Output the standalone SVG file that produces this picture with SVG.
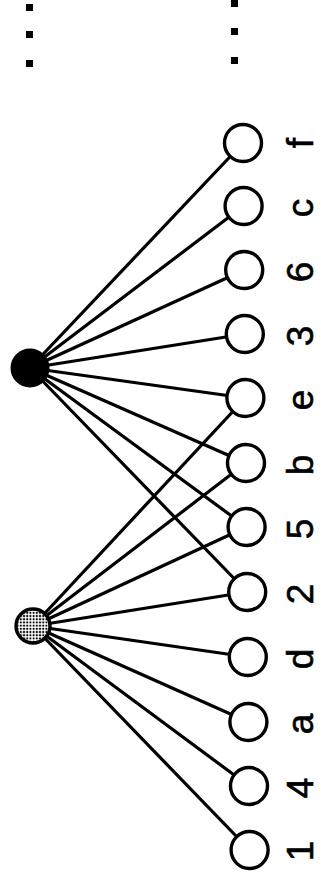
<svg xmlns="http://www.w3.org/2000/svg" width="321" height="878" viewBox="0 0 321 878">
<style>
.e{stroke:#000;stroke-width:3.2;fill:none}
.leaf{fill:#fff;stroke:#000;stroke-width:3.4}
.lbl{font-family:"Liberation Sans",Arial,sans-serif;font-size:37px;fill:#000;stroke:#000;stroke-width:0.6;text-anchor:middle}
.dot{fill:#000}
</style>
<defs>
<pattern id="dots" width="3.2" height="3.2" patternUnits="userSpaceOnUse">
<rect width="3.2" height="3.2" fill="#fff"/>
<circle cx="1.6" cy="1.6" r="1.1" fill="#000"/>
</pattern>
</defs>
<g id="ellipsis">
<rect class="dot" x="26" y="4" width="7" height="7"/>
<rect class="dot" x="26" y="31" width="7" height="7"/>
<rect class="dot" x="26" y="60" width="7" height="7"/>
<rect class="dot" x="231" y="0" width="7" height="7"/>
<rect class="dot" x="231" y="28" width="7" height="7"/>
<rect class="dot" x="231" y="57" width="7" height="7"/>
</g>
<g id="connectors" class="e">
<line x1="30" y1="368" x2="243" y2="143"/>
<line x1="30" y1="368" x2="243.6" y2="206"/>
<line x1="30" y1="368" x2="244.2" y2="270"/>
<line x1="30" y1="368" x2="244.8" y2="334"/>
<line x1="30" y1="368" x2="245.4" y2="398"/>
<line x1="30" y1="368" x2="246" y2="463"/>
<line x1="30" y1="368" x2="246.6" y2="527"/>
<line x1="30" y1="368" x2="247.2" y2="592"/>
<line x1="33" y1="626" x2="245.4" y2="398"/>
<line x1="33" y1="626" x2="246" y2="463"/>
<line x1="33" y1="626" x2="246.6" y2="527"/>
<line x1="33" y1="626" x2="247.2" y2="592"/>
<line x1="33" y1="626" x2="247.8" y2="657"/>
<line x1="33" y1="626" x2="248.4" y2="722"/>
<line x1="33" y1="626" x2="249" y2="786"/>
<line x1="33" y1="626" x2="249.6" y2="850"/>
</g>
<g id="root-black"><circle cx="30" cy="368" r="19.5" fill="#000"/></g>
<g id="root-gray"><circle cx="33" cy="626" r="17" fill="url(#dots)" stroke="#000" stroke-width="3.4"/></g>
<g id="leaf-f"><circle class="leaf" cx="243" cy="143" r="18.5"/><text class="lbl" transform="translate(313,143) rotate(-90)">f</text></g>
<g id="leaf-c"><circle class="leaf" cx="243.6" cy="206" r="18.5"/><text class="lbl" transform="translate(313,208) rotate(-90)">c</text></g>
<g id="leaf-6"><circle class="leaf" cx="244.2" cy="270" r="18.5"/><text class="lbl" transform="translate(313,272) rotate(-90)">6</text></g>
<g id="leaf-3"><circle class="leaf" cx="244.8" cy="334" r="18.5"/><text class="lbl" transform="translate(313,336) rotate(-90)">3</text></g>
<g id="leaf-e"><circle class="leaf" cx="245.4" cy="398" r="18.5"/><text class="lbl" transform="translate(313,400) rotate(-90)">e</text></g>
<g id="leaf-b"><circle class="leaf" cx="246" cy="463" r="18.5"/><text class="lbl" transform="translate(313,465) rotate(-90)">b</text></g>
<g id="leaf-5"><circle class="leaf" cx="246.6" cy="527" r="18.5"/><text class="lbl" transform="translate(313,529) rotate(-90)">5</text></g>
<g id="leaf-2"><circle class="leaf" cx="247.2" cy="592" r="18.5"/><text class="lbl" transform="translate(313,594) rotate(-90)">2</text></g>
<g id="leaf-d"><circle class="leaf" cx="247.8" cy="657" r="18.5"/><text class="lbl" transform="translate(313,659) rotate(-90)">d</text></g>
<g id="leaf-a"><circle class="leaf" cx="248.4" cy="722" r="18.5"/><text class="lbl" transform="translate(313,724) rotate(-90)">a</text></g>
<g id="leaf-4"><circle class="leaf" cx="249" cy="786" r="18.5"/><text class="lbl" transform="translate(313,788) rotate(-90)">4</text></g>
<g id="leaf-1"><circle class="leaf" cx="249.6" cy="850" r="18.5"/><text class="lbl" transform="translate(313,851) rotate(-90)">1</text></g>
</svg>
